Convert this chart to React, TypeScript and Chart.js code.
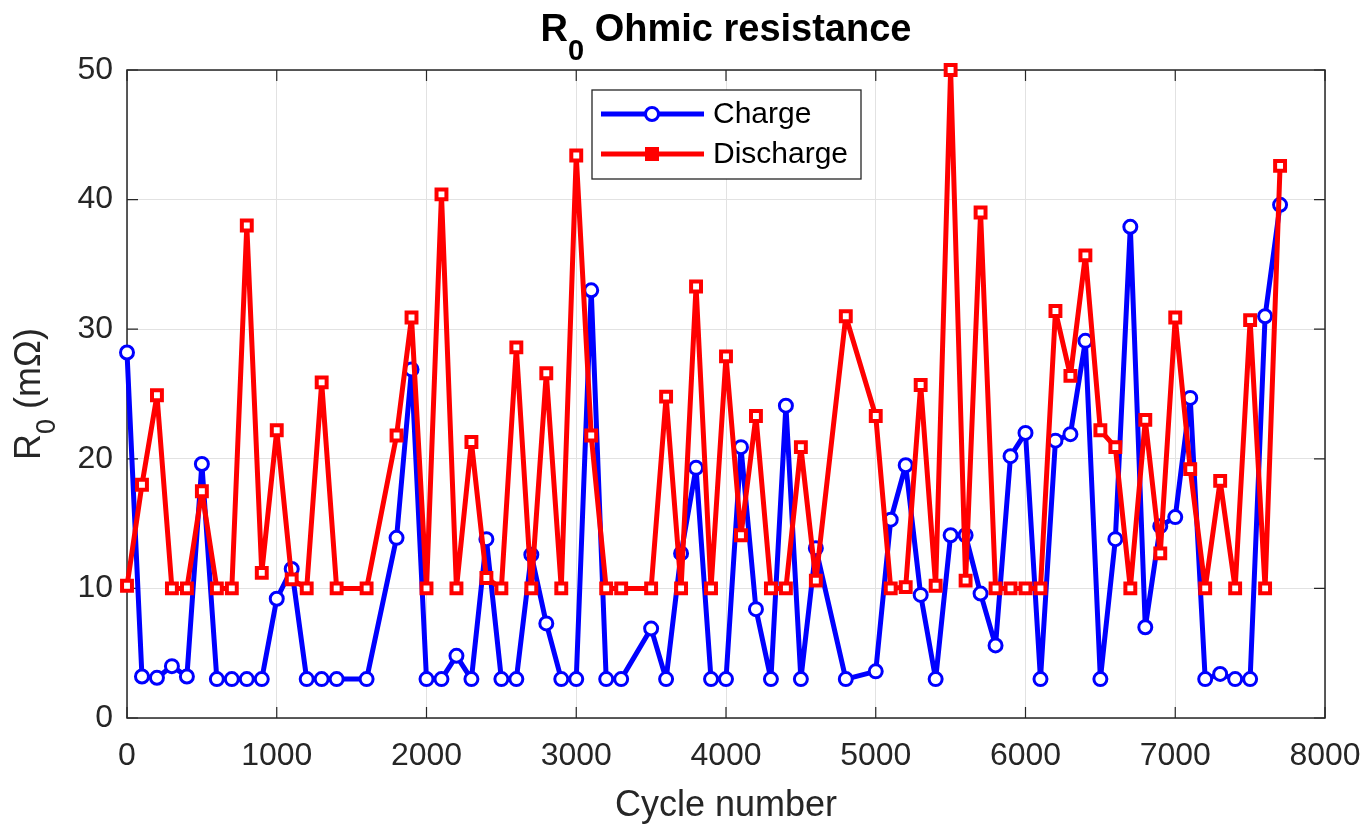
import React, { useEffect, useRef } from 'react';
import { Chart, registerables } from 'chart.js';

Chart.register(...registerables);

// cycle numbers where R0 was measured (some hundreds are missing)
const cycles = [
  0, 100, 200, 300, 400, 500, 600, 700, 800, 900, 1000, 1100, 1200, 1300, 1400, 1600, 1800, 1900,
  2000, 2100, 2200, 2300, 2400, 2500, 2600, 2700, 2800, 2900, 3000, 3100, 3200, 3300, 3500, 3600,
  3700, 3800, 3900, 4000, 4100, 4200, 4300, 4400, 4500, 4600, 4800, 5000, 5100, 5200, 5300, 5400,
  5500, 5600, 5700, 5800, 5900, 6000, 6100, 6200, 6300, 6400, 6500, 6600, 6700, 6800, 6900, 7000,
  7100, 7200, 7300, 7400, 7500, 7600, 7700,
];

// R0 in mOhm
const charge = [
  28.2, 3.2, 3.1, 4.0, 3.2, 19.6, 3.0, 3.0, 3.0, 3.0, 9.2, 11.5, 3.0, 3.0, 3.0, 3.0, 13.9, 26.9,
  3.0, 3.0, 4.8, 3.0, 13.8, 3.0, 3.0, 12.6, 7.3, 3.0, 3.0, 33.0, 3.0, 3.0, 6.9, 3.0,
  12.7, 19.3, 3.0, 3.0, 20.9, 8.4, 3.0, 24.1, 3.0, 13.1, 3.0, 3.6, 15.3, 19.5, 9.5, 3.0,
  14.1, 14.1, 9.6, 5.6, 20.2, 22.0, 3.0, 21.4, 21.9, 29.1, 3.0, 13.8, 37.9, 7.0, 14.8, 15.5,
  24.7, 3.0, 3.4, 3.0, 3.0, 31.0, 39.6,
];

const discharge = [
  10.2, 18.0, 24.9, 10.0, 10.0, 17.5, 10.0, 10.0, 38.0, 11.2, 22.2, 10.7, 10.0, 25.9, 10.0, 10.0, 21.8, 30.9,
  10.0, 40.4, 10.0, 21.3, 10.8, 10.0, 28.6, 10.0, 26.6, 10.0, 43.4, 21.8, 10.0, 10.0, 10.0, 24.8,
  10.0, 33.3, 10.0, 27.9, 14.1, 23.3, 10.0, 10.0, 20.9, 10.6, 31.0, 23.3, 10.0, 10.1, 25.7, 10.2,
  50.0, 10.6, 39.0, 10.0, 10.0, 10.0, 10.0, 31.4, 26.4, 35.7, 22.2, 20.9, 10.0, 23.0, 12.7, 30.9,
  19.2, 10.0, 18.3, 10.0, 30.7, 10.0, 42.6,
];

const xTicks = [0, 1000, 2000, 3000, 4000, 5000, 6000, 7000, 8000];
const yTicks = [0, 10, 20, 30, 40, 50];

const FONT = "'Liberation Sans', Arial, Helvetica, sans-serif";
const INK = '#262626';
const BLUE = '#0000ff';
const RED = '#ff0000';

type Part = { text: string; font: string; dy: number };

// draws text pieces side by side, centred on x (used for the subscripts)
function drawParts(ctx: CanvasRenderingContext2D, parts: Part[], x: number, y: number) {
  let total = 0;
  const widths = parts.map((p) => {
    ctx.font = p.font;
    const w = ctx.measureText(p.text).width;
    total += w;
    return w;
  });
  let cx = x - total / 2;
  parts.forEach((p, i) => {
    ctx.font = p.font;
    ctx.fillText(p.text, cx, y + p.dy);
    cx += widths[i];
  });
}

const matlabLook = {
  id: 'matlabLook',
  beforeDatasetsDraw(chart: any) {
    const { ctx, chartArea: a, scales } = chart;
    ctx.save();
    ctx.strokeStyle = INK;
    ctx.lineWidth = 1.5;
    ctx.strokeRect(a.left, a.top, a.right - a.left, a.bottom - a.top);
    ctx.lineWidth = 1.2;
    ctx.beginPath();
    xTicks.forEach((t) => {
      const x = scales.x.getPixelForValue(t);
      ctx.moveTo(x, a.bottom);
      ctx.lineTo(x, a.bottom - 11);
      ctx.moveTo(x, a.top);
      ctx.lineTo(x, a.top + 11);
    });
    yTicks.forEach((t) => {
      const y = scales.y.getPixelForValue(t);
      ctx.moveTo(a.left, y);
      ctx.lineTo(a.left + 11, y);
      ctx.moveTo(a.right, y);
      ctx.lineTo(a.right - 11, y);
    });
    ctx.stroke();
    ctx.restore();
  },
  afterDraw(chart: any) {
    const { ctx, chartArea: a } = chart;
    const cx = (a.left + a.right) / 2;
    const cy = (a.top + a.bottom) / 2;
    ctx.save();
    ctx.fillStyle = '#000';
    ctx.textAlign = 'left';
    ctx.textBaseline = 'alphabetic';

    // title
    drawParts(
      ctx,
      [
        { text: 'R', font: `bold 38px ${FONT}`, dy: 0 },
        { text: '0', font: `bold 29px ${FONT}`, dy: 19 },
        { text: ' Ohmic resistance', font: `bold 38px ${FONT}`, dy: 0 },
      ],
      cx,
      41
    );

    // axis labels
    ctx.fillStyle = INK;
    ctx.font = `36px ${FONT}`;
    ctx.textAlign = 'center';
    ctx.fillText('Cycle number', cx, 816);
    ctx.textAlign = 'left';

    ctx.save();
    ctx.translate(40, cy);
    ctx.rotate(-Math.PI / 2);
    drawParts(
      ctx,
      [
        { text: 'R', font: `36px ${FONT}`, dy: 0 },
        { text: '0', font: `27px ${FONT}`, dy: 15 },
        { text: ' (m\u03A9)', font: `36px ${FONT}`, dy: 0 },
      ],
      0,
      0
    );
    ctx.restore();

    // legend
    const lx = 592;
    const ly = 90;
    ctx.fillStyle = '#fff';
    ctx.fillRect(lx, ly, 269, 89);
    ctx.strokeStyle = INK;
    ctx.lineWidth = 1.3;
    ctx.strokeRect(lx, ly, 269, 89);
    const rows = [
      { label: 'Charge', color: BLUE, y: 114, circle: true },
      { label: 'Discharge', color: RED, y: 154, circle: false },
    ];
    rows.forEach((r) => {
      ctx.strokeStyle = r.color;
      ctx.lineWidth = 5;
      ctx.beginPath();
      ctx.moveTo(601, r.y);
      ctx.lineTo(704, r.y);
      ctx.stroke();
      if (r.circle) {
        ctx.fillStyle = '#fff';
        ctx.lineWidth = 3;
        ctx.beginPath();
        ctx.arc(652, r.y, 6.5, 0, Math.PI * 2);
        ctx.fill();
        ctx.stroke();
      } else {
        ctx.fillStyle = r.color;
        ctx.fillRect(645, r.y - 7, 14, 14);
      }
      ctx.fillStyle = '#000';
      ctx.font = `30px ${FONT}`;
      ctx.textBaseline = 'middle';
      ctx.fillText(r.label, 713, r.y + 1);
      ctx.textBaseline = 'alphabetic';
    });
    ctx.restore();
  },
};

const App = () => {
  const canvasRef = useRef<HTMLCanvasElement | null>(null);

  useEffect(() => {
    if (!canvasRef.current) return;
    const chart = new Chart(canvasRef.current, {
      type: 'line',
      data: {
        datasets: [
          {
            label: 'Charge',
            data: cycles.map((c, i) => ({ x: c, y: charge[i] })),
            borderColor: BLUE,
            backgroundColor: '#fff',
            borderWidth: 5,
            borderJoinStyle: 'round',
            borderCapStyle: 'round',
            pointStyle: 'circle',
            pointRadius: 6.5,
            pointBorderWidth: 3,
            pointBackgroundColor: '#fff',
            pointBorderColor: BLUE,
            tension: 0,
            order: 1,
            clip: false,
          },
          {
            label: 'Discharge',
            data: cycles.map((c, i) => ({ x: c, y: discharge[i] })),
            borderColor: RED,
            backgroundColor: '#fff',
            borderWidth: 5,
            borderJoinStyle: 'round',
            borderCapStyle: 'round',
            pointStyle: 'rect',
            pointRadius: 7,
            pointBorderWidth: 4,
            pointBackgroundColor: '#fff',
            pointBorderColor: RED,
            tension: 0,
            order: 0,
            clip: false,
          },
        ],
      },
      options: {
        responsive: false,
        animation: false,
        devicePixelRatio: 1,
        layout: { padding: { top: 70, right: 47, left: 0, bottom: 0 } },
        plugins: {
          legend: { display: false },
          title: { display: false },
          tooltip: { enabled: false },
        },
        scales: {
          x: {
            type: 'linear',
            min: 0,
            max: 8000,
            afterBuildTicks: (scale: any) => {
              scale.ticks = xTicks.map((v) => ({ value: v }));
            },
            afterFit: (scale: any) => {
              scale.height = 118;
              scale.paddingLeft = 0;
              scale.paddingRight = 0;
            },
            grid: { color: '#e2e2e2', lineWidth: 1, drawTicks: false },
            border: { display: false },
            ticks: {
              padding: 19,
              color: INK,
              font: { family: FONT, size: 32 },
              maxRotation: 0,
              autoSkip: false,
              callback: (v: any) => String(v),
            },
          },
          y: {
            type: 'linear',
            min: 0,
            max: 50,
            afterBuildTicks: (scale: any) => {
              scale.ticks = yTicks.map((v) => ({ value: v }));
            },
            afterFit: (scale: any) => {
              scale.width = 127;
              scale.paddingTop = 0;
              scale.paddingBottom = 0;
            },
            grid: { color: '#e2e2e2', lineWidth: 1, drawTicks: false },
            border: { display: false },
            ticks: {
              padding: 14,
              color: INK,
              font: { family: FONT, size: 32 },
              callback: (v: any) => String(v),
            },
          },
        },
      },
      plugins: [matlabLook],
    } as any);

    return () => {
      chart.destroy();
    };
  }, []);

  return (
    <div style={{ position: 'absolute', left: 0, top: 0, width: 1372, height: 836, background: '#fff' }}>
      <canvas ref={canvasRef} width={1372} height={836} />
    </div>
  );
};

export default App;
